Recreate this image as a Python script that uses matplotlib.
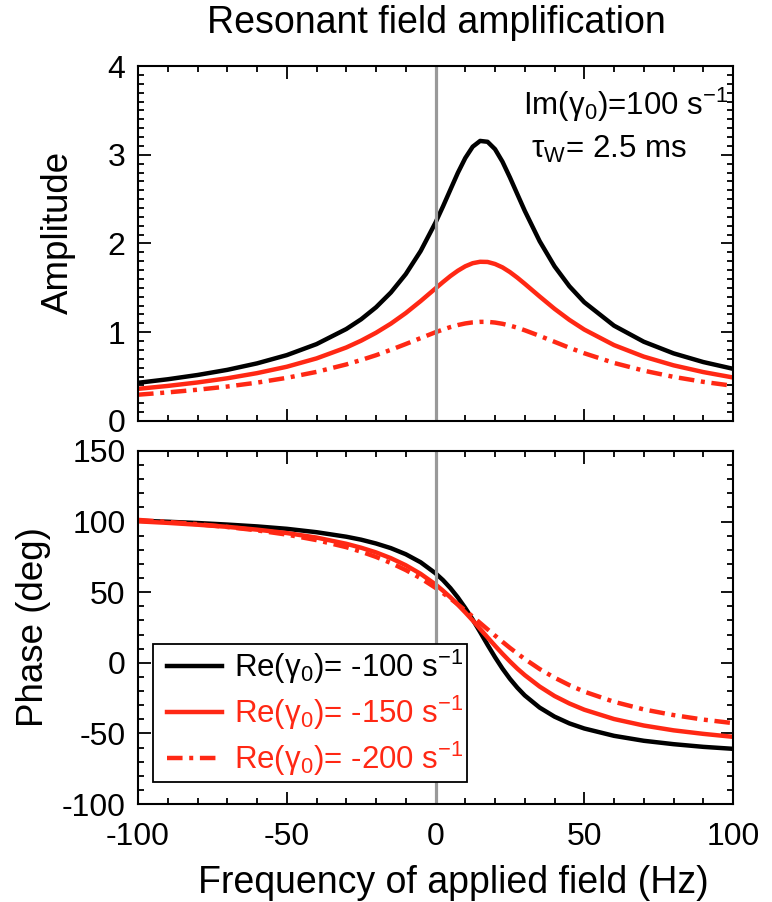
import matplotlib
matplotlib.use('Agg')
import matplotlib.pyplot as plt
from matplotlib.lines import Line2D
from matplotlib.legend_handler import HandlerLine2D
from matplotlib.ticker import MultipleLocator

plt.rcParams['font.family'] = ['Liberation Sans', 'DejaVu Sans']
plt.rcParams['mathtext.default'] = 'regular'
plt.rcParams['axes.unicode_minus'] = False

# frequency of applied field (Hz)
freq = [-100, -90, -80, -70, -60, -50, -40, -30, -25, -20, -15, -10, -5, 0,
        2.5, 5, 7.5, 10, 12.5, 15, 17.5, 20, 22.5, 25, 27.5, 30,
        35, 40, 45, 50, 60, 70, 80, 90, 100]

# amplitude
amp_100 = [0.430, 0.470, 0.518, 0.576, 0.649, 0.742, 0.866, 1.036, 1.146, 1.281,
           1.448, 1.655, 1.915, 2.236, 2.417, 2.607, 2.796, 2.963, 3.091, 3.156,
           3.146, 3.063, 2.922, 2.745, 2.556, 2.368, 2.026, 1.743, 1.518, 1.338,
           1.074, 0.893, 0.762, 0.664, 0.588]
amp_150 = [0.362, 0.395, 0.434, 0.481, 0.539, 0.611, 0.705, 0.828, 0.905, 0.994,
           1.097, 1.216, 1.351, 1.494, 1.565, 1.633, 1.693, 1.743, 1.778, 1.794,
           1.792, 1.769, 1.731, 1.678, 1.615, 1.546, 1.403, 1.264, 1.139, 1.030,
           0.855, 0.725, 0.627, 0.551, 0.490]
amp_200 = [0.296, 0.322, 0.352, 0.388, 0.432, 0.486, 0.553, 0.637, 0.687, 0.741,
           0.802, 0.867, 0.934, 1.000, 1.030, 1.058, 1.081, 1.099, 1.111, 1.117,
           1.117, 1.109, 1.095, 1.075, 1.051, 1.022, 0.959, 0.892, 0.825, 0.763,
           0.654, 0.567, 0.497, 0.441, 0.396]

# phase (deg)
phase_100 = [100.6, 99.9, 99.0, 97.9, 96.6, 94.9, 92.5, 89.3, 87.2, 84.5,
             81.2, 76.9, 71.2, 63.4, 58.6, 52.9, 46.3, 38.8, 30.6, 21.8,
             12.7, 4.0, -4.1, -11.3, -17.6, -23.1, -31.7, -38.1, -42.9, -46.5,
             -51.7, -55.2, -57.6, -59.5, -60.9]
phase_150 = [100.2, 99.1, 97.8, 96.3, 94.3, 91.9, 88.7, 84.3, 81.5, 78.2,
             74.1, 69.1, 63.0, 55.5, 51.1, 46.4, 41.2, 35.7, 30.0, 24.0,
             18.0, 12.1, 6.4, 1.0, -4.1, -8.7, -16.8, -23.5, -28.8, -33.2,
             -39.8, -44.4, -47.8, -50.3, -52.4]
phase_200 = [101.2, 99.8, 98.2, 96.2, 93.8, 90.8, 86.9, 81.9, 78.7, 75.0,
             70.7, 65.7, 59.9, 53.1, 49.4, 45.5, 41.4, 37.1, 32.7, 28.2,
             23.7, 19.3, 14.9, 10.6, 6.6, 2.7, -4.4, -10.5, -15.8, -20.4,
             -27.6, -33.0, -37.0, -40.2, -42.7]

labels = [u'Re(\u03b3$_0$)= -100 s$^{-1}$',
          u'Re(\u03b3$_0$)= -150 s$^{-1}$',
          u'Re(\u03b3$_0$)= -200 s$^{-1}$']

red = '#ff2814'
dashdot = (0, (3.5, 1.5, 0.9, 1.5))
lw = 3.2


def style_axis(ax, ymin, ymax, ymajor, yminor):
    ax.set_xlim(-100, 100)
    ax.set_ylim(ymin, ymax)
    ax.xaxis.set_major_locator(MultipleLocator(50))
    ax.xaxis.set_minor_locator(MultipleLocator(10))
    ax.yaxis.set_major_locator(MultipleLocator(ymajor))
    ax.yaxis.set_minor_locator(MultipleLocator(yminor))
    ax.tick_params(which='both', direction='in', top=True, right=True, width=1.3)
    ax.tick_params(which='major', length=9, labelsize=23)
    ax.tick_params(which='minor', length=4.5)
    ax.tick_params(axis='y', pad=9)
    ax.tick_params(axis='x', pad=13)
    for sp in ax.spines.values():
        sp.set_linewidth(1.5)


fig = plt.figure(figsize=(7.72, 9.02), dpi=100)
ax1 = fig.add_axes([0.1788, 0.5333, 0.7707, 0.3935])
ax2 = fig.add_axes([0.1788, 0.1086, 0.7707, 0.3914])

# upper panel: amplitude
ax1.plot(freq, amp_100, color='black', lw=lw)
ax1.plot(freq, amp_150, color=red, lw=lw)
ax1.plot(freq, amp_200, color=red, lw=lw, ls=dashdot)
ax1.axvline(0, color='#999999', lw=2.3)
style_axis(ax1, 0, 4, 1, 0.1)
ax1.set_xticklabels([])
ax1.set_ylabel('Amplitude', fontsize=26.5, labelpad=23)
ax1.yaxis.label.set_y(0.53)
ax1.text(0.992, 0.89, u'Im(\u03b3$_0$)=100 s$^{-1}$', transform=ax1.transAxes,
         ha='right', va='center', fontsize=22.5)
ax1.text(0.66, 0.765, u'\u03c4$_W$= 2.5 ms', transform=ax1.transAxes,
         ha='left', va='center', fontsize=22.5)

# lower panel: phase
ax2.plot(freq, phase_100, color='black', lw=lw)
ax2.plot(freq, phase_150, color=red, lw=lw)
ax2.plot(freq, phase_200, color=red, lw=lw, ls=dashdot)
ax2.axvline(0, color='#999999', lw=2.3)
style_axis(ax2, -100, 150, 50, 10)
ax2.set_ylabel('Phase (deg)', fontsize=26.5, labelpad=8)
ax2.set_xlabel('Frequency of applied field (Hz)', fontsize=27, labelpad=9)
ax2.xaxis.label.set_x(0.53)

handles = [Line2D([], [], color='black', lw=lw),
           Line2D([], [], color=red, lw=lw),
           Line2D([], [], color=red, lw=lw, ls=dashdot)]
hmap = {h: HandlerLine2D(xpad=0.33) for h in handles}
leg = ax2.legend(handles, labels, loc='lower left', bbox_to_anchor=(0.025, 0.062),
                 fontsize=22.5, frameon=True, fancybox=False, framealpha=1,
                 edgecolor='black', handlelength=2.08, handletextpad=0.4,
                 labelspacing=0.25, borderpad=0.12, borderaxespad=0,
                 labelcolor=['black', red, red], handler_map=hmap)
leg.get_frame().set_linewidth(1.3)

fig.text(0.565, 0.974, 'Resonant field amplification', ha='center', va='center',
         fontsize=27)

plt.savefig('out.png', dpi=100)
